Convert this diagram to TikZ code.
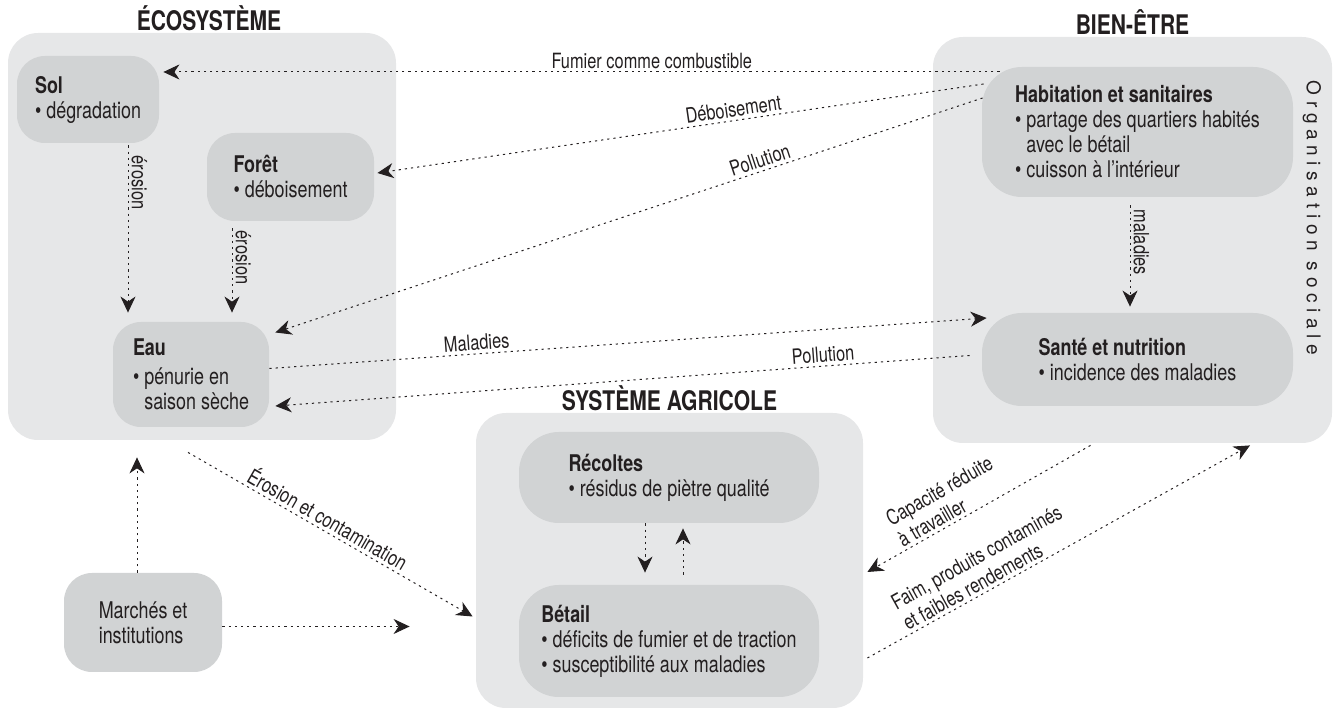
\documentclass[tikz,border=0pt]{standalone}
\usepackage{fontspec}
\setmainfont{TeX Gyre Heros}[FakeStretch=0.78]
\newfontfamily\trackedfont{TeX Gyre Heros}[LetterSpace=30]
\usetikzlibrary{arrows.meta}

\definecolor{outergray}{HTML}{E6E7E8}
\definecolor{innergray}{HTML}{D1D3D4}
\definecolor{inkgray}{HTML}{231F20}

\begin{document}
\begin{tikzpicture}[x=0.5pt,y=-0.5pt,
  outerbox/.style={fill=outergray,rounded corners=15pt,inner sep=0pt},
  innerbox/.style={fill=innergray,rounded corners=14pt,inner sep=0pt,
    align=left,text=inkgray,font=\fontsize{11.5}{12.5}\selectfont},
  widebox/.style={innerbox,rounded corners=20pt},
  heading/.style={font=\fontsize{13.5}{15}\selectfont\bfseries,text=inkgray,
    anchor=base,inner sep=0pt},
  flow/.style={draw=inkgray,line width=0.5pt,dash pattern=on 1.1pt off 2pt,
    -{Stealth[length=8pt,width=7.5pt,inset=2.5pt]}},
  lbl/.style={font=\fontsize{10.5}{12}\selectfont,text=inkgray,inner sep=1.5pt}]

\useasboundingbox (0,0) rectangle (1334,710);

% The three large panels, with their titles sitting on the top edge.
\node[outerbox,minimum width=194pt,minimum height=203.5pt] (eco) at (202,236.5) {};
\node[outerbox,minimum width=199.5pt,minimum height=203pt] (bien) at (1132.5,240) {};
\node[outerbox,minimum width=193.5pt,minimum height=147.5pt] (agri) at (669.5,560.5) {};

\node[heading] (ecotitle) at ([xshift=3.5pt,yshift=1pt]eco.north) {ÉCOSYSTÈME};
\node[heading] (bientitle) at ([yshift=1pt]bien.north) {BIEN-ÊTRE};
\node[heading] (agrititle) at ([yshift=1pt]agri.north) {SYSTÈME AGRICOLE};

% Ecosystem.
\node[innerbox,minimum width=71pt,minimum height=43.5pt] (sol) at (88,99.5)
  {\textbf{Sol}\\\textbullet\ dégradation};
\node[innerbox,minimum width=83.5pt,minimum height=44pt] (foret) at (290.5,177)
  {\textbf{Forêt}\\\textbullet\ déboisement};
\node[innerbox,minimum width=78pt,minimum height=52.5pt] (eau) at (191,374.5)
  {\textbf{Eau}\\[2pt]\textbullet\ pénurie en\\\phantom{\textbullet\ }saison sèche};

% Well-being.
\node[widebox,minimum width=155.5pt,minimum height=65pt] (habitat) at (1137.5,132)
  {\textbf{Habitation et sanitaires}\\\textbullet\ partage des quartiers habités\\
   \phantom{\textbullet\ }avec le bétail\\\textbullet\ cuisson à l'intérieur};
\node[widebox,minimum width=155.5pt,minimum height=46.5pt] (sante) at (1137.5,359.5)
  {\textbf{Santé et nutrition}\\\textbullet\ incidence des maladies};
\node[rotate=-90,font=\trackedfont\fontsize{9.5}{11}\selectfont,text=inkgray]
  (orgsoc) at (1312,218) {Organisation sociale};

% Farming system.
\node[widebox,minimum width=150pt,minimum height=45.5pt] (recoltes) at (669,477.5)
  {\textbf{Récoltes}\\\textbullet\ résidus de piètre qualité};
\node[widebox,minimum width=150pt,minimum height=56pt] (betail) at (669,641)
  {\textbf{Bétail}\\\textbullet\ déficits de fumier et de traction\\
   \textbullet\ susceptibilité aux maladies};

\node[innerbox,minimum width=79pt,minimum height=49.5pt] (marches) at (143,622.5)
  {Marchés et\\institutions};

% Vertical links inside the panels.
\draw[flow,shorten <=1pt,shorten >=4.5pt]
  ([xshift=20pt]sol.south) -- ([xshift=20pt]sol.south |- eau.north)
  node[lbl,pos=0.22,rotate=-90,anchor=south] {érosion};
\draw[flow,shorten <=3.5pt,shorten >=4.5pt]
  ([xshift=-29.25pt]foret.south) -- ([xshift=-29.25pt]foret.south |- eau.north)
  node[lbl,pos=0.36,rotate=-90,anchor=south] {érosion};
\draw[flow,shorten <=4pt,shorten >=3pt]
  ([xshift=-3.75pt]habitat.south) -- ([xshift=-3.75pt]habitat.south |- sante.north)
  node[lbl,pos=0.39,rotate=-90,anchor=south] {maladies};
\draw[flow,shorten >=6pt]
  ([xshift=-12pt]recoltes.south) -- ([xshift=-12pt]recoltes.south |- betail.north);
\draw[flow,shorten <=5pt,shorten >=2.5pt]
  ([xshift=7pt]betail.north) -- ([xshift=7pt]betail.north |- recoltes.south);

% From housing back to the ecosystem.
\draw[flow,shorten >=2pt]
  ([xshift=9pt,yshift=30pt]habitat.west) -- ([yshift=30pt]habitat.west -| sol.east)
  node[lbl,pos=0.414,above] {Fumier comme combustible};
\draw[flow]
  ([xshift=1pt,yshift=24pt]habitat.west) -- ([xshift=1.5pt,yshift=2pt]foret.east)
  node[lbl,pos=0.41,sloped,above] {Déboisement};
\draw[flow]
  ([xshift=0.5pt,yshift=17pt]habitat.west) -- ([xshift=3pt,yshift=21pt]eau.east)
  node[lbl,pos=0.31,sloped,above] {Pollution};

% Water and health.
\draw[flow]
  ([yshift=3pt]eau.east) -- ([xshift=2.5pt,yshift=20.75pt]sante.west)
  node[lbl,pos=0.29,sloped,above] {Maladies};
\draw[flow]
  ([xshift=-6pt,yshift=2pt]sante.west) -- ([xshift=3pt,yshift=-15.75pt]eau.east)
  node[lbl,pos=0.21,sloped,above] {Pollution};

% Links round the farming system.
\draw[flow]
  ([xshift=-7pt,yshift=-6pt]eco.south) -- ([xshift=-1.5pt,yshift=-28pt]agri.west)
  node[lbl,pos=0.47,sloped,above] {Érosion et contamination};
\draw[flow,shorten >=8.5pt]
  ([xshift=-3pt]marches.north) -- ([xshift=-3pt]marches.north |- eco.south);
\draw[flow,shorten >=33pt]
  ([yshift=-2pt]marches.east) -- ([yshift=-2pt]marches.east -| agri.west);
\draw[flow]
  ([xshift=-21pt,yshift=-1pt]bien.south) -- ([xshift=2pt,yshift=-5.75pt]agri.east)
  node[lbl,pos=0.6,sloped,above,align=left] {Capacité réduite\\à travailler};
\draw[flow]
  ([xshift=2pt,yshift=-48.75pt]agri.east) -- ([xshift=58.75pt,yshift=-1pt]bien.south)
  node[lbl,pos=0.33,sloped,above,align=left] {Faim, produits contaminés\\et faibles rendements};

\end{tikzpicture}
\end{document}
